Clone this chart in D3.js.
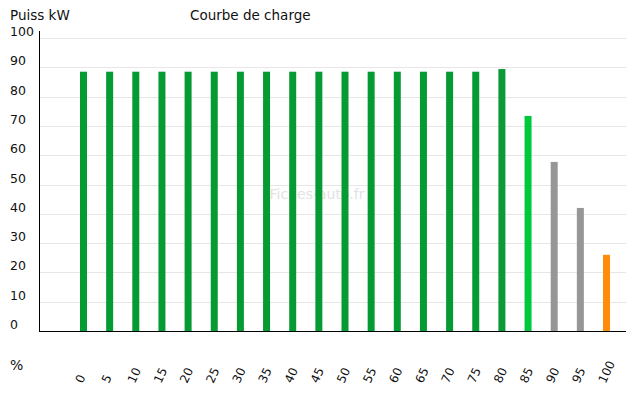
<!DOCTYPE html>
<html>
<head>
<meta charset="utf-8">
<script src="https://cdn.jsdelivr.net/npm/d3@7"></script>
<style>
  body { margin: 0; background: #fff; }
  text { font-family: "DejaVu Sans", sans-serif; fill: #111; }
</style>
</head>
<body>
<div id="chart"></div>
<script>
// Chart data
const categories = ["0","5","10","15","20","25","30","35","40","45","50","55","60","65","70","75","80","85","90","95","100"];
const power = [88.5,88.5,88.5,88.5,88.5,88.5,88.5,88.5,88.5,88.5,88.5,88.5,88.5,88.5,88.5,88.5,89.4,73.4,57.7,42,26];
const barColors = ["#059b33","#059b33","#059b33","#059b33","#059b33","#059b33","#059b33","#059b33","#059b33","#059b33","#059b33","#059b33","#059b33","#059b33","#059b33","#059b33","#0a9a36","#00c73b","#969696","#969696","#ff8c0a"];
const yTicks = [0,10,20,30,40,50,60,70,80,90,100];

const width = 640, height = 400;

const svg = d3.select("#chart").append("svg")
  .attr("width", width)
  .attr("height", height);

const xScale = d3.scalePoint()
  .domain(categories)
  .range([83.5, 606.5]);

const yScale = d3.scaleLinear()
  .domain([0, 100])
  .range([331, 38]);

// gridlines
svg.selectAll(".grid")
  .data(yTicks.filter(d => d > 0))
  .join("line")
  .attr("class", "grid")
  .attr("x1", 40).attr("x2", 626)
  .attr("y1", d => Math.round(yScale(d)) + 0.5)
  .attr("y2", d => Math.round(yScale(d)) + 0.5)
  .attr("stroke", "#e6e6e6")
  .attr("stroke-width", 1);

// y tick labels (left aligned)
svg.selectAll(".ylab")
  .data(yTicks)
  .join("text")
  .attr("class", "ylab")
  .attr("x", 10)
  .attr("y", d => yScale(d) - 2)
  .attr("font-size", 12.5)
  .text(d => d);

// watermark
svg.append("text")
  .attr("x", 317).attr("y", 199)
  .attr("text-anchor", "middle")
  .attr("font-size", 14)
  .style("fill", "#e2e2e2")
  .text("Fiches-auto.fr");

// bars
const barW = 7;
svg.selectAll(".bar")
  .data(categories)
  .join("rect")
  .attr("class", "bar")
  .attr("x", d => xScale(d) - barW / 2)
  .attr("width", barW)
  .attr("y", (d, i) => yScale(power[i]))
  .attr("height", (d, i) => yScale(0) - yScale(power[i]))
  .attr("fill", (d, i) => barColors[i]);

// axes lines
svg.append("line")
  .attr("x1", 39.5).attr("x2", 39.5)
  .attr("y1", 31).attr("y2", 331)
  .attr("stroke", "#000");
svg.append("line")
  .attr("x1", 39).attr("x2", 626)
  .attr("y1", 331.5).attr("y2", 331.5)
  .attr("stroke", "#000");

// x tick labels, rotated
svg.selectAll(".xlab")
  .data(categories)
  .join("text")
  .attr("class", "xlab")
  .attr("font-size", 12)
  .attr("transform", d => `translate(${xScale(d) - 1},${384}) rotate(-65)`)
  .text(d => d);

// titles
svg.append("text").attr("x", 10).attr("y", 20).attr("font-size", 13.5).text("Puiss kW");
svg.append("text").attr("x", 190).attr("y", 20).attr("font-size", 13.5).text("Courbe de charge");
svg.append("text").attr("x", 10).attr("y", 370).attr("font-size", 14).text("%");
</script>
</body>
</html>
